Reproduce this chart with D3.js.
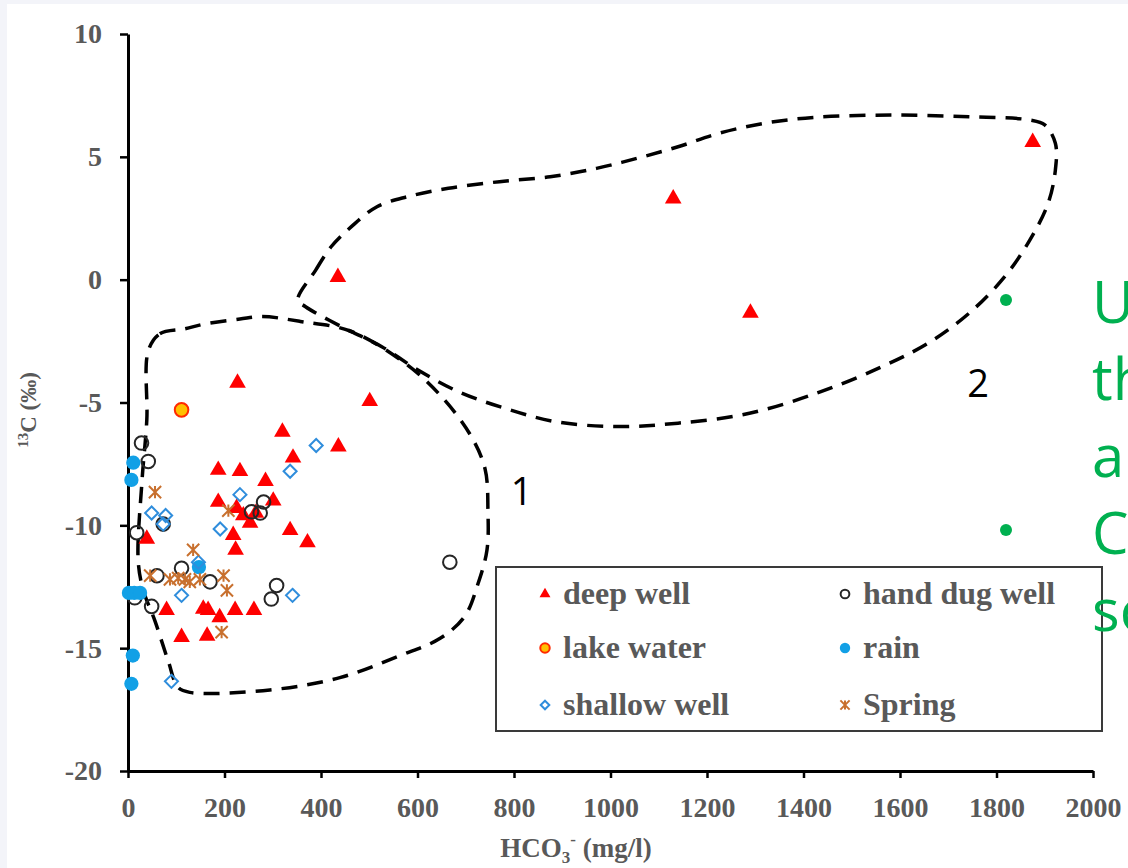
<!DOCTYPE html>
<html>
<head>
<meta charset="utf-8">
<script src="https://cdn.jsdelivr.net/npm/d3@7"></script>
<style>
  html, body { margin: 0; padding: 0; background: #f3f4f9; }
  svg { display: block; }
</style>
</head>
<body>
<svg id="chart" width="1128" height="868"></svg>
<script>
// values: [HCO3- (mg/l), d13C (permil)]
var deepWell = [[1875,5.6],[1130,3.3],[435,0.1],[1290,-1.35],[227,-4.2],[501,-4.95],[320,-6.2],
  [436,-6.8],[342,-7.25],[187,-7.75],[232,-7.8],[285,-8.2],[187,-9.05],[301,-9.0],[225,-9.3],
  [239,-9.6],[253,-9.9],[265,-9.5],[218,-10.4],[336,-10.2],[223,-11.0],[372,-10.7],[39,-10.55],
  [80,-13.45],[156,-13.4],[166,-13.45],[190,-13.75],[222,-13.45],[261,-13.45],[111,-14.55],[164,-14.5]];
var handDugWell = [[28,-6.65],[42,-7.4],[256,-9.45],[274,-9.5],[281,-9.05],[18,-10.3],[73,-9.95],
  [111,-11.75],[60,-12.05],[170,-12.3],[308,-12.45],[297,-13.0],[14,-12.95],[49,-13.3],[667,-11.5]];
var lakeWater = [[111,-5.3]];
var rain = [[11,-7.45],[7,-8.15],[2,-12.75],[13,-12.75],[25,-12.75],[10,-15.3],[7,-16.45],[147,-11.7]];
var shallowWell = [[390,-6.75],[336,-7.8],[232,-8.75],[49,-9.5],[78,-9.6],[73,-9.95],[191,-10.15],
  [111,-12.85],[341,-12.85],[146,-11.5],[90,-16.35]];
var spring = [[56,-8.65],[208,-9.4],[135,-11.0],[46,-12.05],[87,-12.2],[104,-12.15],[118,-12.2],
  [128,-12.3],[149,-12.2],[198,-12.05],[205,-12.65],[194,-14.35]];

// hand drawn group envelopes, in data units
var envelope1 = [[42,-2.9],[66,-2.2],[118,-2.0],[160,-1.8],[232,-1.6],[278,-1.5],[357,-1.7],[462,-2.1],
  [574,-3.4],[647,-4.7],[709,-6.3],[740,-7.7],[746,-9.4],[744,-11.0],[725,-12.4],[698,-13.7],
  [647,-14.6],[564,-15.3],[439,-16.2],[294,-16.7],[128,-16.8],[104,-16.6],[83,-15.5],[56,-13.9],
  [31,-12.6],[21,-11.4],[29,-8.2],[39,-5.7]];
var envelope2 = [[352,-0.83],[389,0.39],[421,1.34],[463,2.16],[516,2.97],[580,3.38],[664,3.72],
  [770,3.99],[875,4.19],[971,4.53],[1055,4.94],[1140,5.41],[1225,5.96],[1320,6.37],[1425,6.61],
  [1583,6.7],[1743,6.63],[1869,6.5],[1900,6.3],[1922,5.55],[1922,4.46],[1907,3.11],[1869,1.61],
  [1817,0.12],[1743,-1.37],[1658,-2.59],[1563,-3.54],[1436,-4.56],[1288,-5.44],[1140,-5.84],
  [1013,-5.98],[886,-5.78],[780,-5.23],[685,-4.56],[601,-3.68],[526,-2.73],[442,-1.91],[368,-1.1]];
var envelopeLabels = [["1",816,-8.6],["2",1762,-4.2]];

var xTicks = [0,200,400,600,800,1000,1200,1400,1600,1800,2000];
var yTicks = [-20,-15,-10,-5,0,5,10];
var sideLines = ["U","th","ar","Co","sc"];

var serif = "'Liberation Serif','Times New Roman',serif",
    sans = "'Open Sans','Noto Sans',sans-serif",
    grey = "#595959";

var svg = d3.select("#chart");

svg.append("rect")
  .attr("x", 7).attr("y", 4)
  .attr("width", 1121).attr("height", 864)
  .attr("fill", "#fff");

var x = d3.scaleLinear().domain([0, 2000]).range([128, 1093]);
var y = d3.scaleLinear().domain([-20, 10]).range([771, 34]);

// marker shapes like the spreadsheet ones
var diamond = {
  draw: function(ctx, size) {
    var r = Math.sqrt(size) / 2;
    ctx.moveTo(0, -r); ctx.lineTo(r, 0); ctx.lineTo(0, r); ctx.lineTo(-r, 0); ctx.closePath();
  }
};
var star = {
  draw: function(ctx, size) {
    var r = Math.sqrt(size) / 2;
    ctx.moveTo(-r, -r); ctx.lineTo(r, r);
    ctx.moveTo(-r, r); ctx.lineTo(r, -r);
    ctx.moveTo(0, -r); ctx.lineTo(0, r);
  }
};

var series = [
  {name: "deep well", data: deepWell, type: d3.symbolTriangle, size: 120, legendSize: 52,
   fill: "#ff0000", stroke: "none", sw: 0},
  {name: "hand dug well", data: handDugWell, type: d3.symbolCircle, size: 145, legendSize: 60,
   fill: "none", stroke: "#262626", sw: 2},
  {name: "lake water", data: lakeWater, type: d3.symbolCircle, size: 145, legendSize: 70,
   fill: "#ffc000", stroke: "#ff2a00", sw: 2},
  {name: "rain", data: rain, type: d3.symbolCircle, size: 160, legendSize: 85,
   fill: "#12a0e6", stroke: "none", sw: 0},
  {name: "shallow well", data: shallowWell, type: diamond, size: 170, legendSize: 75,
   fill: "none", stroke: "#2f8ddc", sw: 2},
  {name: "Spring", data: spring, type: star, size: 150, legendSize: 85,
   fill: "none", stroke: "#c8702e", sw: 2}
];

// envelopes
var line = d3.line()
  .x(function(d) { return x(d[0]); })
  .y(function(d) { return y(d[1]); })
  .curve(d3.curveCatmullRomClosed.alpha(0.5));

svg.selectAll("path.envelope")
  .data([envelope1, envelope2])
  .enter().append("path")
  .attr("class", "envelope")
  .attr("d", line)
  .attr("fill", "none")
  .attr("stroke", "#000")
  .attr("stroke-width", 3.5)
  .attr("stroke-dasharray", "16 10");

svg.selectAll("text.envlabel")
  .data(envelopeLabels)
  .enter().append("text")
  .attr("class", "envlabel")
  .attr("x", function(d) { return x(d[1]); })
  .attr("y", function(d) { return y(d[2]); })
  .attr("dy", "0.36em")
  .attr("text-anchor", "middle")
  .style("font-family", sans)
  .style("font-size", "38px")
  .attr("fill", "#000")
  .text(function(d) { return d[0]; });

// axes
var xAxis = d3.axisBottom(x)
  .tickValues(xTicks)
  .tickSize(7)
  .tickSizeOuter(0)
  .tickPadding(19)
  .tickFormat(function(d) { return String(d); });

var yAxis = d3.axisLeft(y)
  .tickValues(yTicks)
  .tickSize(8)
  .tickSizeOuter(0)
  .tickPadding(18)
  .tickFormat(function(d) { return String(d); });

var gx = svg.append("g")
  .attr("transform", "translate(0," + y(-20) + ")")
  .call(xAxis);
var gy = svg.append("g")
  .attr("transform", "translate(" + x(0) + ",0)")
  .call(yAxis);

[gx, gy].forEach(function(g) {
  g.select(".domain").attr("stroke", "#000").attr("stroke-width", 3);
  g.selectAll(".tick line").attr("stroke", "#000").attr("stroke-width", 2.5);
  g.selectAll(".tick text")
    .attr("fill", grey)
    .style("font-family", serif)
    .style("font-weight", "bold")
    .style("font-size", "28px");
});

// axis titles
var xt = svg.append("text")
  .attr("x", 576).attr("y", 857)
  .attr("text-anchor", "middle")
  .attr("fill", grey)
  .style("font-family", serif)
  .style("font-weight", "bold")
  .style("font-size", "27px");
xt.append("tspan").text("HCO");
xt.append("tspan").attr("dy", 6).style("font-size", "17px").text("3");
xt.append("tspan").attr("dy", -18).style("font-size", "17px").text("-");
xt.append("tspan").attr("dy", 12).text(" (mg/l)");

var yt = svg.append("text")
  .attr("transform", "translate(36,410) rotate(-90)")
  .attr("text-anchor", "middle")
  .attr("fill", grey)
  .style("font-family", serif)
  .style("font-weight", "bold")
  .style("font-size", "23px");
yt.append("tspan").attr("dy", -8).style("font-size", "15px").text("13");
yt.append("tspan").attr("dy", 8).text("C (\u2030)");

// points
series.forEach(function(s) {
  svg.append("g").selectAll("path")
    .data(s.data)
    .enter().append("path")
    .attr("transform", function(d) { return "translate(" + x(d[0]) + "," + y(d[1]) + ")"; })
    .attr("d", d3.symbol().type(s.type).size(s.size))
    .attr("fill", s.fill)
    .attr("stroke", s.stroke)
    .attr("stroke-width", s.sw);
});

// legend
var legend = svg.append("g");
legend.append("rect")
  .attr("x", 496).attr("y", 567)
  .attr("width", 606).attr("height", 164)
  .attr("fill", "#fff")
  .attr("stroke", "#3a3a3a")
  .attr("stroke-width", 2);

var item = legend.selectAll("g.item")
  .data(series)
  .enter().append("g")
  .attr("class", "item")
  .attr("transform", function(d, i) {
    return "translate(" + (i % 2 ? 845 : 545) + "," + [594, 648, 705][Math.floor(i / 2)] + ")";
  });

item.append("path")
  .attr("d", function(d) { return d3.symbol().type(d.type).size(d.legendSize)(); })
  .attr("fill", function(d) { return d.fill; })
  .attr("stroke", function(d) { return d.stroke; })
  .attr("stroke-width", function(d) { return d.sw; });

item.append("text")
  .attr("x", 18).attr("y", 10)
  .attr("fill", grey)
  .style("font-family", serif)
  .style("font-weight", "bold")
  .style("font-size", "32px")
  .text(function(d) { return d.name; });

// slide text cut off on the right
svg.selectAll("circle.bullet")
  .data([300, 530])
  .enter().append("circle")
  .attr("class", "bullet")
  .attr("cx", 1006).attr("cy", function(d) { return d; })
  .attr("r", 6)
  .attr("fill", "#00b050");

svg.selectAll("text.side")
  .data(sideLines)
  .enter().append("text")
  .attr("class", "side")
  .attr("x", 1092)
  .attr("y", function(d, i) { return 323 + i * 77; })
  .attr("fill", "#00b050")
  .style("font-family", sans)
  .style("font-size", "58px")
  .text(function(d) { return d; });
</script>
</body>
</html>
